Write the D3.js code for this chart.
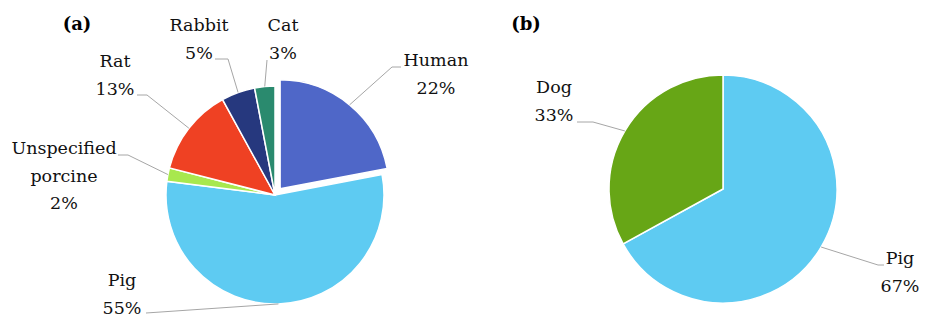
<!DOCTYPE html>
<html>
<head>
<meta charset="utf-8">
<script src="https://cdn.jsdelivr.net/npm/d3@7"></script>
<style>
  body { margin: 0; background: #fff; }
</style>
</head>
<body>
<div id="chart"></div>
<script>
// panel (a) data, clockwise from 12 o'clock
const speciesA = ['Human', 'Pig', 'Unspecified porcine', 'Rat', 'Rabbit', 'Cat']
const valuesA = [22, 55, 2, 13, 5, 3]
const colorsA = ['#4f67c8', '#5ecbf2', '#a8e84e', '#ef4123', '#26387e', '#2a8a6e']

// panel (b) data
const speciesB = ['Pig', 'Dog']
const valuesB = [67, 33]
const colorsB = ['#5ecbf2', '#67a616']

const width = 934, height = 317
const font = "'DejaVu Serif', serif"
const fsize = 17.5
const svg = d3.select('#chart').append('svg').attr('width', width).attr('height', height)

// label layout: text centre, line break lines, elbow point of the leader (absolute px)
const layoutA = {
  'Human': {x: 436, y: 60, lines: ['Human'], elbow: [392, 67], end: [401, 67]},
  'Pig': {x: 122, y: 280, lines: ['Pig'], elbow: null, end: [146, 313]},
  'Unspecified porcine': {x: 64, y: 148, lines: ['Unspecified', 'porcine'], elbow: [128, 155], end: [118, 155]},
  'Rat': {x: 115, y: 61, lines: ['Rat'], elbow: [147, 95], end: [137, 95]},
  'Rabbit': {x: 199, y: 25, lines: ['Rabbit'], elbow: [228, 59], end: [215, 59]},
  'Cat': {x: 283, y: 25, lines: ['Cat'], elbow: null, end: [267, 60]}
}
const layoutB = {
  'Pig': {x: 900, y: 258, lines: ['Pig'], elbow: [878, 265], end: [884, 265]},
  'Dog': {x: 554, y: 87, lines: ['Dog'], elbow: [593, 122], end: [577, 122]}
}

function drawPie(cx, cy, r, names, values, colors, layout, explode){
  let total = d3.sum(values)
  let data = d3.pie().sort(null).value(d => d.v)(names.map((n, i) => ({name: n, v: values[i], c: colors[i]})))
  let arc = d3.arc().innerRadius(0).outerRadius(r)
  let edge = d3.arc().innerRadius(r).outerRadius(r)
  let g = svg.append('g').attr('transform', 'translate(' + cx + ',' + cy + ')')

  // shift for exploded slices
  const off = d => {
    if (explode.indexOf(d.data.name) < 0) return [0, 0]
    let a = (d.startAngle + d.endAngle) / 2
    return [8 * Math.sin(a), -8 * Math.cos(a)]
  }

  g.selectAll('path').data(data).enter().append('path')
    .attr('d', arc)
    .attr('transform', d => 'translate(' + off(d) + ')')
    .attr('fill', d => d.data.c)
    .attr('stroke', '#fff').attr('stroke-width', 1.5)

  // leaders + labels
  data.forEach(d => {
    let L = layout[d.data.name]
    let o = off(d)
    let p = edge.centroid(d)
    let pts = [[cx + p[0] + o[0], cy + p[1] + o[1]]]
    if (L.elbow) pts.push(L.elbow)
    pts.push(L.end)
    svg.append('polyline').attr('points', pts.map(q => q.join(',')).join(' '))
      .attr('fill', 'none').attr('stroke', '#a6a6a6').attr('stroke-width', 1)
    let lines = L.lines.concat([Math.round(d.data.v / total * 100) + '%'])
    lines.forEach((t, i) => {
      svg.append('text').attr('x', L.x).attr('y', L.y + i * 27.5).attr('dy', '0.35em')
        .attr('text-anchor', 'middle')
        .style('font-family', font).style('font-size', fsize + 'px').attr('fill', '#111')
        .text(t)
    })
  })
}

drawPie(275, 195, 109, speciesA, valuesA, colorsA, layoutA, ['Human'])
drawPie(723, 189, 114, speciesB, valuesB, colorsB, layoutB, [])

svg.append('text').attr('x', 77).attr('y', 24).attr('dy', '0.35em').attr('text-anchor', 'middle')
  .style('font-family', font).style('font-size', '18px').style('font-weight', 'bold').text('(a)')
svg.append('text').attr('x', 526).attr('y', 24).attr('dy', '0.35em').attr('text-anchor', 'middle')
  .style('font-family', font).style('font-size', '18px').style('font-weight', 'bold').text('(b)')
</script>
</body>
</html>
